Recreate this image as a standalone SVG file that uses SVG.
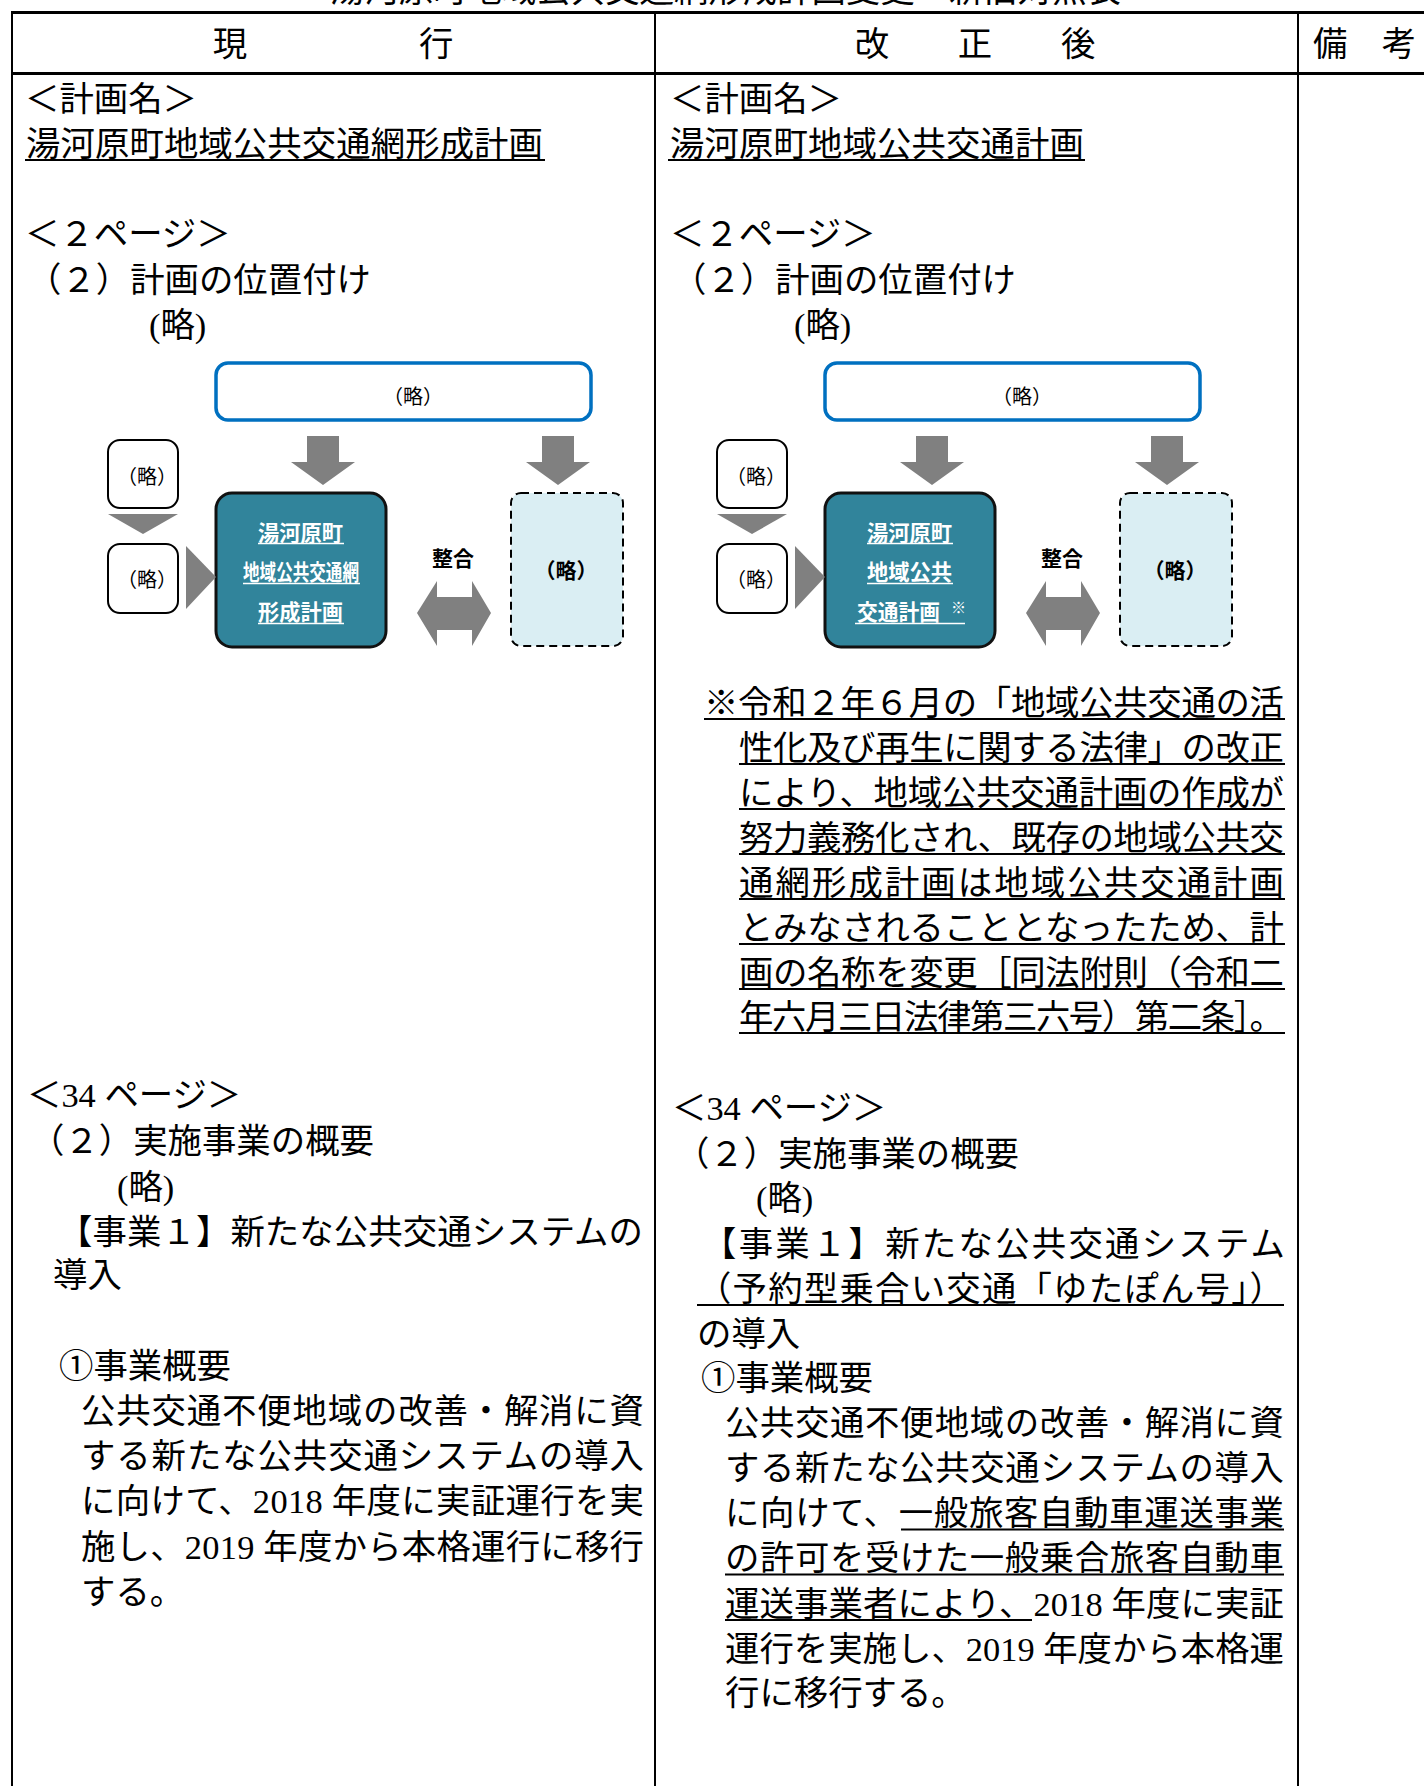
<svg xmlns="http://www.w3.org/2000/svg" width="1424" height="1786" viewBox="0 0 1424 1786">
<style>
.t{font-family:'Liberation Serif','Noto Sans CJK JP',serif;font-size:34.4px;fill:#000}
.g{font-family:'Noto Sans CJK JP','Liberation Sans',sans-serif;fill:#000}
.b{font-weight:700}
.w{fill:#fff}
.ul{stroke:#000;stroke-width:2}
.wul{stroke:#fff;stroke-width:1.5}
.arr{fill:#808080}
.tl{stroke:#000;fill:none}
</style>
<rect x="0" y="0" width="1424" height="1786" fill="#fff"/>
<text class="t" x="330" y="2" font-size="26.3">湯河原町地域公共交通網形成計画変更　新旧対照表</text>

<g id="table">
<line class="tl" x1="11" y1="12.5" x2="1424" y2="12.5" stroke-width="3"/>
<line class="tl" x1="11" y1="73.5" x2="1424" y2="73.5" stroke-width="3"/>
<line class="tl" x1="12" y1="11" x2="12" y2="1786" stroke-width="2"/>
<line class="tl" x1="655" y1="11" x2="655" y2="1786" stroke-width="2"/>
<line class="tl" x1="1298" y1="11" x2="1298" y2="1786" stroke-width="2"/>
</g>

<g id="header">
<text class="t" x="333" y="56" text-anchor="middle">現　　　　　行</text>
<text class="t" x="975" y="56" text-anchor="middle">改　　正　　後</text>
<text class="t" x="1313" y="56">備　考</text>
</g>

<g id="left-top">
<text class="t" x="25" y="110.5">＜計画名＞</text>
<text class="t" x="26" y="156" textLength="517" lengthAdjust="spacing">湯河原町地域公共交通網形成計画</text>
<line class="ul" x1="25" y1="160" x2="545" y2="160"/>
<text class="t" x="25" y="246">＜２ページ＞</text>
<text class="t" x="27" y="292">（２）計画の位置付け</text>
<text class="t" x="149" y="337">(略)</text>
</g>

<g id="right-top">
<text class="t" x="670" y="110.5">＜計画名＞</text>
<text class="t" x="670" y="156" textLength="414" lengthAdjust="spacing">湯河原町地域公共交通計画</text>
<line class="ul" x1="668" y1="160" x2="1085" y2="160"/>
<text class="t" x="670" y="246">＜２ページ＞</text>
<text class="t" x="672" y="292">（２）計画の位置付け</text>
<text class="t" x="794" y="337">(略)</text>
</g>

<g id="diagram-left">
<g id="dl-top">
<rect x="216" y="363" width="375" height="57" rx="12" fill="#fff" stroke="#0070C0" stroke-width="3.5"/>
<text class="g" x="413" y="404" font-size="20" text-anchor="middle">（略）</text>
</g>
<g id="dl-small1">
<rect x="108" y="440" width="70" height="68" rx="12" fill="#fff" stroke="#000" stroke-width="2"/>
<text class="g" x="147" y="484" font-size="20" text-anchor="middle">（略）</text>
</g>
<g id="dl-small2">
<rect x="108" y="544" width="70" height="69" rx="12" fill="#fff" stroke="#000" stroke-width="2"/>
<text class="g" x="147" y="587" font-size="20" text-anchor="middle">（略）</text>
</g>
<g id="dl-main">
<rect x="216" y="493" width="170" height="154" rx="16" fill="#31849B" stroke="#111" stroke-width="3"/>
<text class="g b w" x="258" y="541" font-size="21.5" textLength="85" lengthAdjust="spacingAndGlyphs">湯河原町</text>
<line class="wul" x1="258" y1="543.5" x2="344" y2="543.5"/>
<text class="g b w" x="243" y="580" font-size="21.5" textLength="116" lengthAdjust="spacingAndGlyphs">地域公共交通網</text>
<line class="wul" x1="243" y1="583.5" x2="360" y2="583.5"/>
<text class="g b w" x="258" y="620" font-size="21.5" textLength="85" lengthAdjust="spacingAndGlyphs">形成計画</text>
<line class="wul" x1="258" y1="623.5" x2="344" y2="623.5"/>
</g>
<g id="dl-right">
<rect x="511" y="493" width="112" height="153" rx="10" fill="#DAEEF3" stroke="#000" stroke-width="2" stroke-dasharray="8,5"/>
<text class="g b" x="566" y="578" font-size="21" text-anchor="middle">（略）</text>
</g>
<text class="g b" x="453" y="566" font-size="21" text-anchor="middle">整合</text>
</g>

<g id="diagram-right" transform="translate(609,0)">
<g id="dr-top">
<rect x="216" y="363" width="375" height="57" rx="12" fill="#fff" stroke="#0070C0" stroke-width="3.5"/>
<text class="g" x="413" y="404" font-size="20" text-anchor="middle">（略）</text>
</g>
<g id="dr-small1">
<rect x="108" y="440" width="70" height="68" rx="12" fill="#fff" stroke="#000" stroke-width="2"/>
<text class="g" x="147" y="484" font-size="20" text-anchor="middle">（略）</text>
</g>
<g id="dr-small2">
<rect x="108" y="544" width="70" height="69" rx="12" fill="#fff" stroke="#000" stroke-width="2"/>
<text class="g" x="147" y="587" font-size="20" text-anchor="middle">（略）</text>
</g>
<g id="dr-main">
<rect x="216" y="493" width="170" height="154" rx="16" fill="#31849B" stroke="#111" stroke-width="3"/>
<text class="g b w" x="258" y="541" font-size="21.5" textLength="85" lengthAdjust="spacingAndGlyphs">湯河原町</text>
<line class="wul" x1="258" y1="543.5" x2="344" y2="543.5"/>
<text class="g b w" x="258" y="580" font-size="21.5" textLength="85" lengthAdjust="spacingAndGlyphs">地域公共</text>
<line class="wul" x1="258" y1="583.5" x2="344" y2="583.5"/>
<text class="g b w" x="248" y="620" font-size="21.5" textLength="83" lengthAdjust="spacingAndGlyphs">交通計画</text>
<text class="g b w" x="342" y="613" font-size="15">※</text>
<line class="wul" x1="246" y1="623.5" x2="356" y2="623.5"/>
</g>
<g id="dr-right">
<rect x="511" y="493" width="112" height="153" rx="10" fill="#DAEEF3" stroke="#000" stroke-width="2" stroke-dasharray="8,5"/>
<text class="g b" x="566" y="578" font-size="21" text-anchor="middle">（略）</text>
</g>
<text class="g b" x="453" y="566" font-size="21" text-anchor="middle">整合</text>
</g>

<g id="connectors">
<g id="conn-left">
<polygon class="arr" points="307,436 339,436 339,462 355,462 323,485 291,462 307,462"/>
<polygon class="arr" points="542,436 574,436 574,462 590,462 558,485 526,462 542,462"/>
<polygon class="arr" points="108,514 178,514 143,534"/>
<polygon class="arr" points="186,546 216,577 186,609"/>
<polygon class="arr" points="417,613 437,581 437,597 472,597 472,581 491,613 472,646 472,630 437,630 437,646"/>
</g>
<g id="conn-right" transform="translate(609,0)">
<polygon class="arr" points="307,436 339,436 339,462 355,462 323,485 291,462 307,462"/>
<polygon class="arr" points="542,436 574,436 574,462 590,462 558,485 526,462 542,462"/>
<polygon class="arr" points="108,514 178,514 143,534"/>
<polygon class="arr" points="186,546 216,577 186,609"/>
<polygon class="arr" points="417,613 437,581 437,597 472,597 472,581 491,613 472,646 472,630 437,630 437,646"/>
</g>
</g>

<g id="note">
<text class="t" x="704" y="715" textLength="580" lengthAdjust="spacing">※令和２年６月の「地域公共交通の活</text>
<line class="ul" x1="704" y1="719" x2="1285" y2="719"/>
<text class="t" x="739" y="760" textLength="545" lengthAdjust="spacing">性化及び再生に関する法律」の改正</text>
<line class="ul" x1="739" y1="764" x2="1285" y2="764"/>
<text class="t" x="739" y="805" textLength="545" lengthAdjust="spacing">により、地域公共交通計画の作成が</text>
<line class="ul" x1="739" y1="809" x2="1285" y2="809"/>
<text class="t" x="739" y="850" textLength="545" lengthAdjust="spacing">努力義務化され、既存の地域公共交</text>
<line class="ul" x1="739" y1="854" x2="1285" y2="854"/>
<text class="t" x="739" y="895" textLength="545" lengthAdjust="spacing">通網形成計画は地域公共交通計画</text>
<line class="ul" x1="739" y1="899" x2="1285" y2="899"/>
<text class="t" x="739" y="940" textLength="545" lengthAdjust="spacing">とみなされることとなったため、計</text>
<line class="ul" x1="739" y1="944" x2="1285" y2="944"/>
<text class="t" x="739" y="985" textLength="545" lengthAdjust="spacing">画の名称を変更［同法附則（令和二</text>
<line class="ul" x1="739" y1="989" x2="1285" y2="989"/>
<text class="t" x="739" y="1029" textLength="545" lengthAdjust="spacing">年六月三日法律第三六号）第二条］。</text>
<line class="ul" x1="739" y1="1033" x2="1285" y2="1033"/>
</g>

<g id="left-bottom">
<text class="t" x="27" y="1107">＜34 ページ＞</text>
<text class="t" x="30" y="1153">（２）実施事業の概要</text>
<text class="t" x="117" y="1199">(略)</text>
<text class="t" x="58" y="1244" textLength="585" lengthAdjust="spacing">【事業１】新たな公共交通システムの</text>
<text class="t" x="53" y="1287">導入</text>
<text class="t" x="59" y="1378">①事業概要</text>
<text class="t" x="81" y="1423" textLength="563" lengthAdjust="spacing">公共交通不便地域の改善・解消に資</text>
<text class="t" x="81" y="1468" textLength="563" lengthAdjust="spacing">する新たな公共交通システムの導入</text>
<text class="t" x="81" y="1513" textLength="563" lengthAdjust="spacing">に向けて、2018 年度に実証運行を実</text>
<text class="t" x="81" y="1559" textLength="563" lengthAdjust="spacing">施し、2019 年度から本格運行に移行</text>
<text class="t" x="81" y="1604">する。</text>
</g>

<g id="right-bottom">
<text class="t" x="672" y="1120">＜34 ページ＞</text>
<text class="t" x="675" y="1166">（２）実施事業の概要</text>
<text class="t" x="756" y="1210">(略)</text>
<text class="t" x="702" y="1256" textLength="583" lengthAdjust="spacing">【事業１】新たな公共交通システム</text>
<text class="t" x="697" y="1301" textLength="587" lengthAdjust="spacing">（予約型乗合い交通「ゆたぽん号」）</text>
<line class="ul" x1="697" y1="1305" x2="1284" y2="1305"/>
<text class="t" x="697" y="1346">の導入</text>
<text class="t" x="701" y="1390">①事業概要</text>
<text class="t" x="725" y="1435" textLength="559" lengthAdjust="spacing">公共交通不便地域の改善・解消に資</text>
<text class="t" x="725" y="1480" textLength="559" lengthAdjust="spacing">する新たな公共交通システムの導入</text>
<text class="t" x="725" y="1525" textLength="559" lengthAdjust="spacing">に向けて、一般旅客自動車運送事業</text>
<line class="ul" x1="901" y1="1529.5" x2="1284" y2="1529.5"/>
<text class="t" x="725" y="1570" textLength="559" lengthAdjust="spacing">の許可を受けた一般乗合旅客自動車</text>
<line class="ul" x1="725" y1="1574.5" x2="1284" y2="1574.5"/>
<text class="t" x="725" y="1616" textLength="559" lengthAdjust="spacing">運送事業者により、2018 年度に実証</text>
<line class="ul" x1="725" y1="1620" x2="1032" y2="1620"/>
<text class="t" x="725" y="1661" textLength="559" lengthAdjust="spacing">運行を実施し、2019 年度から本格運</text>
<text class="t" x="725" y="1705">行に移行する。</text>
</g>
</svg>
